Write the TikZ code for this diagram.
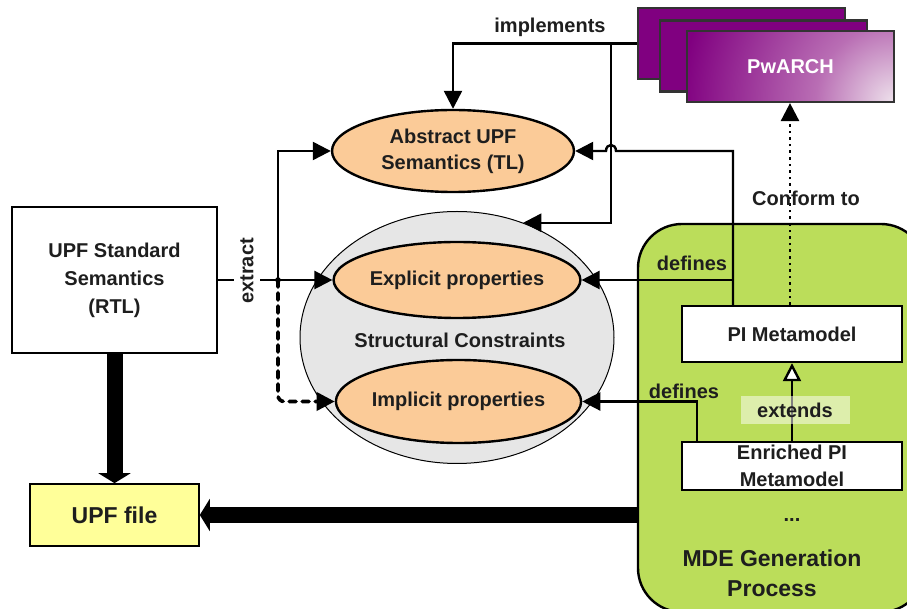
\documentclass[tikz,border=0pt]{standalone}
\usepackage{fontspec}
\setmainfont{Liberation Sans}
\usetikzlibrary{arrows.meta,shapes.geometric}
\definecolor{peach}{RGB}{251,203,152}
\definecolor{grayfill}{RGB}{230,230,230}
\definecolor{mdegreen}{RGB}{187,221,90}
\definecolor{upfyellow}{RGB}{255,255,153}
\definecolor{pwpurple}{RGB}{128,0,128}
\definecolor{pwlight}{RGB}{238,226,236}
\definecolor{pwmid}{RGB}{185,110,180}
\definecolor{txt}{RGB}{30,30,30}
\pgfdeclareradialshading{pwrad}{\pgfpoint{0bp}{0bp}}{color(0bp)=(pwlight); color(7bp)=(pwmid); color(19bp)=(pwpurple); color(50bp)=(pwpurple)}
\begin{document}
\begin{tikzpicture}[x=0.5pt,y=-0.5pt,
  every node/.style={font=\bfseries\fontsize{10}{13}\selectfont, text=txt},
  conn/.style={line width=1.2pt, -{Triangle[length=9pt,width=9pt]}},
  dashconn/.style={line width=1.8pt, dash pattern=on 3.5pt off 3pt, line cap=round, rounded corners=3pt, -{Triangle[length=9pt,width=9pt]}},
  bigarrow/.style={line width=8pt, -{Triangle[length=5pt,width=16pt]}},
  boxnode/.style={draw, line width=1.2pt, fill=white, inner sep=0pt, align=center},
  peachell/.style={ellipse, draw, line width=1.2pt, fill=peach, inner sep=0pt, align=center},
  pwbox/.style={draw=black!80, line width=1.1pt, fill=pwpurple, minimum width=103.5pt, minimum height=35.5pt, inner sep=0pt},
  lbl/.style={inner sep=0pt}
]
\clip (0,0) rectangle (907,609);
\fill[white] (0,0) rectangle (907,609);

% MDE container
\node[draw, line width=1.2pt, fill=mdegreen, rounded corners=22pt, minimum width=143.5pt, minimum height=194pt, inner sep=0pt] (mde) at (781.5,418) {};

% PwARCH stack
\node[pwbox] (pw1) at (741.5,43.5) {};
\node[pwbox] (pw2) at (763.5,56) {};
\node[pwbox, text=white, path picture={\shade[shading=pwrad] (path picture bounding box.south east) circle[radius=140pt];}] (pw3) at (790.5,66.5) {PwARCH};

% Left boxes
\node[boxnode, minimum width=102.5pt, minimum height=73pt, font=\bfseries\fontsize{10}{14}\selectfont] (std) at (114.5,280) {UPF Standard\\Semantics\\(RTL)};
\node[boxnode, fill=upfyellow, line width=0.8pt, minimum width=84.5pt, minimum height=31pt, font=\bfseries\fontsize{11.5}{14}\selectfont] (file) at (114.5,515) {UPF file};

% Ellipses
\node[ellipse, draw, line width=0.5pt, fill=grayfill, minimum width=157pt, minimum height=126pt, inner sep=0pt] (gray) at (457,337.5) {};
\node[lbl] (sc) at (460,340) {Structural Constraints};
\node[peachell, minimum width=121pt, minimum height=41pt] (abs) at (453,151) {Abstract UPF\\Semantics (TL)};
\node[peachell, minimum width=118pt, minimum height=38pt] (expl) at (457,280) {Explicit properties};
\node[peachell, minimum width=117pt, minimum height=41.5pt] (impl) at (458.5,401.5) {Implicit properties};

% MDE inner boxes
\node[boxnode, minimum width=110pt, minimum height=28pt] (pi) at (792,334) {PI Metamodel};
\node[boxnode, minimum width=110pt, minimum height=24pt, font=\bfseries\fontsize{10}{13.5}\selectfont] (enr) at (792,466) {Enriched PI\\Metamodel};
\node[lbl] (dots) at (792,520) {...};
\node[lbl, align=center, font=\bfseries\fontsize{11.5}{15}\selectfont] (mdetxt) at (772,573) {MDE Generation\\Process};

% helper coordinates
\coordinate (xA) at (733,0);
\coordinate (xB) at (611,0);
\coordinate (xC) at (790,0);
\coordinate (xD) at (697,0);
\coordinate (xE) at (278,0);

% implements
\draw[conn] (pw1.west) -| (abs.north);
\draw[conn] (xB |- pw1.west) -- (xB |- gray.60) -- (gray.60);
\node[lbl] (impl-l) at (550,27) {implements};

% PI to abstract with jump
\draw[conn] (pi.north -| xA) -- (xA |- abs.east) -- ([xshift=2.5pt]xB |- abs.east) .. controls +(0pt,4pt) and +(0pt,4pt) .. ([xshift=-2.5pt]xB |- abs.east) -- (abs.east);
\draw[conn] (xA |- expl.east) -- (expl.east);
\node[lbl] (def1) at (692,263) {defines};

% conform to
\draw[line width=1.3pt, dotted, -{Triangle[length=9pt,width=9pt]}] (pi.north -| xC) -- (xC |- pw3.south);
\node[lbl] (conf) at (806,198) {Conform to};

% extends
\draw[line width=1.2pt, -{Triangle[open, fill=white, length=9pt, width=9pt]}] (enr.north) -- (pi.south);
\node[fill=white, fill opacity=0.5, text opacity=1, minimum width=54.5pt, minimum height=14pt, inner sep=0pt] (ext) at (795,410) {extends};

% defines implicit
\draw[conn] (enr.north -| xD) |- (impl.east);
\node[lbl] (def2) at (684,391) {defines};

% extract
\draw[conn] (std.east) -- (expl.west);
\node[fill=white, rotate=90, inner xsep=1pt, inner ysep=3pt] (extr) at (247,271) {extract};
\draw[conn] (xE |- expl.west) |- (abs.west);
\draw[dashconn] (xE |- expl.west) |- (impl.west);
\fill (xE |- expl.west) circle[radius=1.4pt];

% thick arrows
\draw[bigarrow] (std.south) -- (file.north);
\draw[bigarrow] (mde.west |- file.east) -- (file.east);
\end{tikzpicture}
\end{document}
